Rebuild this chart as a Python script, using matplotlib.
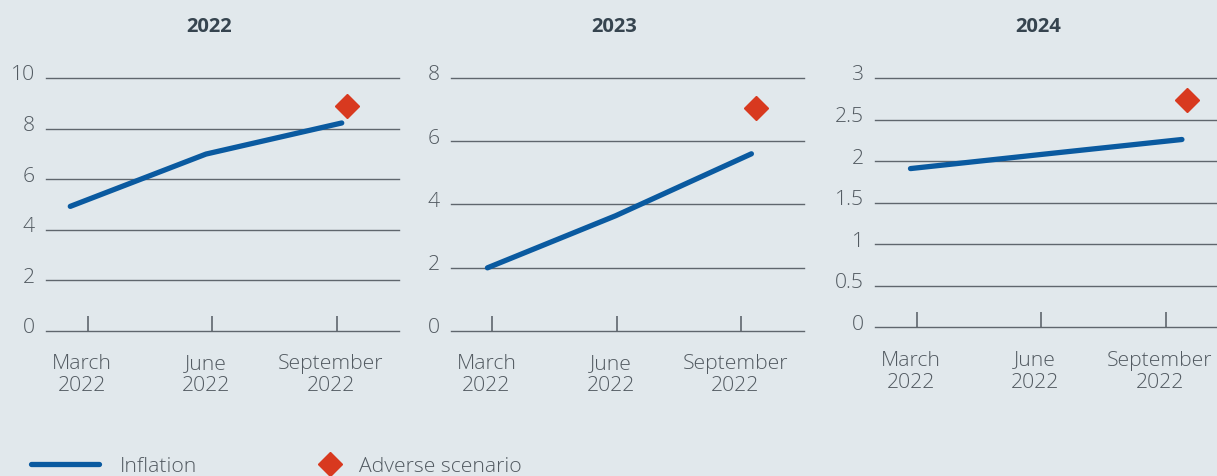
import matplotlib
matplotlib.use("Agg")
import matplotlib.pyplot as plt
from matplotlib.lines import Line2D
from matplotlib.transforms import ScaledTranslation

# ---- data ----
years = ["2022", "2023", "2024"]
quarters = ["March\n2022", "June\n2022", "September\n2022"]

# observation positions along the quarter axis (0 = March, 1 = June, 2 = September)
inflation_x = [[-0.14, 0.95, 2.04], [-0.04, 0.99, 2.08], [-0.05, 1.00, 2.13]]
inflation_y = [[4.92, 6.99, 8.22], [1.99, 3.64, 5.60], [1.91, 2.08, 2.26]]
adverse_x = [2.08, 2.12, 2.17]
adverse_y = [8.9, 7.06, 2.735]

y_ticks = [[0, 2, 4, 6, 8, 10], [0, 2, 4, 6, 8], [0, 0.5, 1, 1.5, 2, 2.5, 3]]
y_labels = [["0", "2", "4", "6", "8", "10"],
            ["0", "2", "4", "6", "8"],
            ["0", "0.5", "1", "1.5", "2", "2.5", "3"]]

# ---- style ----
BG = "#e1e8ec"
BLUE = "#0a5aa0"
RED = "#d8391f"
GRID = "#5f666d"
TXT = "#525a61"
TITLE = "#36444f"
FS = 15.2

plt.rcParams["font.family"] = ["Open Sans", "DejaVu Sans"]

W, H = 1217, 477
fig = plt.figure(figsize=(W / 100, H / 100), dpi=100, facecolor=BG)

# axes frames in pixels: left, top, width, bottom
frames = [(46, 79, 353, 331.7), (450.7, 79, 353, 331.7), (875, 79, 353, 328.3)]

for i, (l, t, w, b) in enumerate(frames):
    ax = fig.add_axes([l / W, 1 - b / H, w / W, (b - t) / H])
    ax.set_facecolor(BG)
    ax.patch.set_alpha(0)
    for s in ax.spines.values():
        s.set_visible(False)

    ax.plot(inflation_x[i], inflation_y[i], color=BLUE, lw=3.8,
            solid_capstyle="round", solid_joinstyle="round", zorder=3,
            clip_on=False)
    ax.plot([adverse_x[i]], [adverse_y[i]], marker="D", ms=12.5, color=RED,
            ls="none", zorder=4, clip_on=False)

    ax.set_xlim(-0.335, 2.5)
    ax.set_ylim(y_ticks[i][0], y_ticks[i][-1])
    ax.set_yticks(y_ticks[i])
    ax.set_yticklabels(y_labels[i])
    ax.set_xticks(range(len(quarters)))
    ax.set_xticklabels(quarters, linespacing=1.15)

    ax.yaxis.grid(True, color=GRID, lw=1.0)
    for gl in ax.get_ygridlines():
        gl.set_clip_on(False)
    ax.set_axisbelow(True)

    ax.tick_params(axis="y", length=0, pad=8, labelsize=FS, labelcolor=TXT)
    ax.tick_params(axis="x", direction="in", length=11, width=1.2,
                   color=GRID, pad=16, labelsize=FS, labelcolor=TXT)
    for lab in ax.get_yticklabels():
        lab.set_fontweight("light")
        lab.set_transform(lab.get_transform() +
                          ScaledTranslation(0, 6 / 100, fig.dpi_scale_trans))
    for lab in ax.get_xticklabels():
        lab.set_fontweight("light")
        lab.set_transform(lab.get_transform() +
                          ScaledTranslation(-6 / 100, 0, fig.dpi_scale_trans))

    ax.annotate(years[i], xy=(1, 1), xycoords=("data", "axes fraction"),
                xytext=(-2, 52.5 * 0.72), textcoords="offset points",
                ha="center", va="center", fontsize=14.5, fontweight="bold",
                color=TITLE)

# legend
leg1 = fig.legend(handles=[Line2D([], [], color=BLUE, lw=3.8,
                                  solid_capstyle="round")],
                  labels=["Inflation"], loc="center left",
                  bbox_to_anchor=(31 / W, 1 - 467 / H), frameon=False,
                  handlelength=3.2, handletextpad=1.0, borderpad=0,
                  borderaxespad=0, fontsize=FS, labelcolor=TXT)
leg2 = fig.legend(handles=[Line2D([], [], color=RED, marker="D", ms=12.5,
                                  ls="none")],
                  labels=["Adverse scenario"], loc="center left",
                  bbox_to_anchor=(318 / W, 1 - 467 / H), frameon=False,
                  handlelength=1.1, handletextpad=0.85, borderpad=0,
                  borderaxespad=0, fontsize=FS, labelcolor=TXT)
for lg in (leg1, leg2):
    for t in lg.get_texts():
        t.set_fontweight("light")

fig.savefig("out.png", dpi=100, facecolor=BG)
